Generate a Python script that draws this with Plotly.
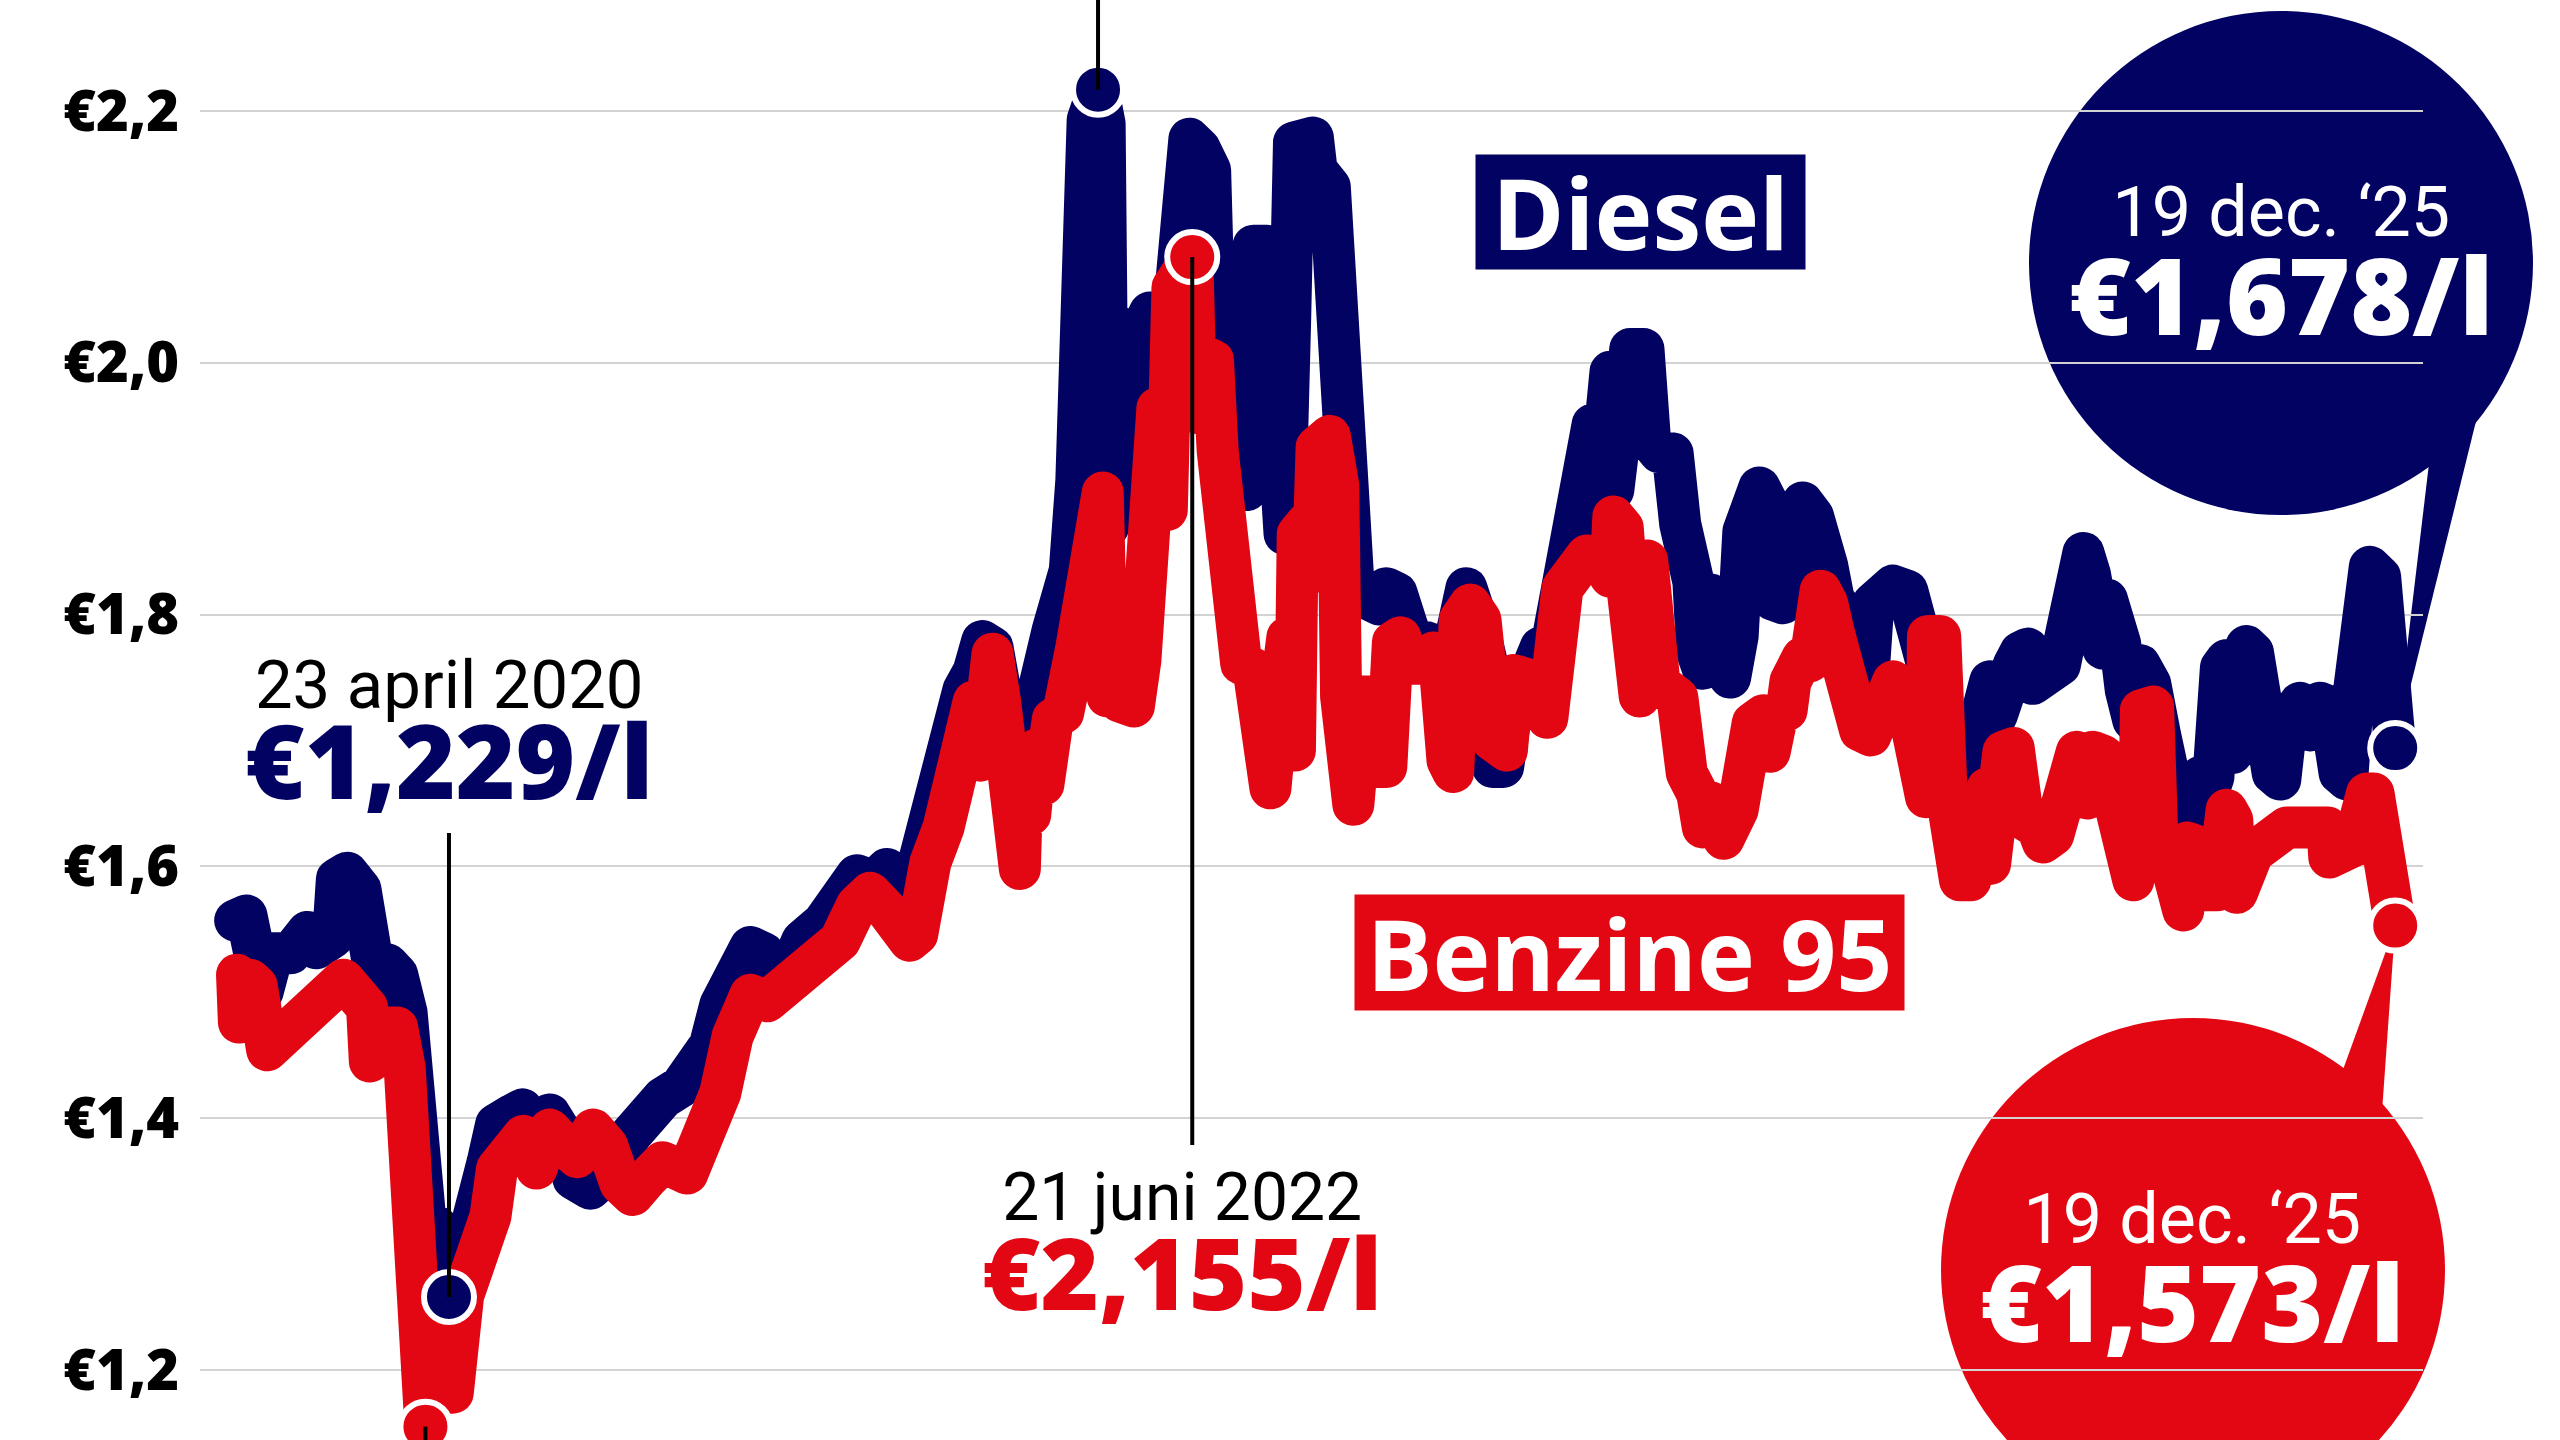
import pandas as pd
import plotly.graph_objects as go

# ---------------- data ----------------
BASE = pd.Timestamp("2020-01-01")  # day 0 of the day counters below

diesel_day = [
    -114, -102, -85, -74, -55, -37, -28, -10, -6, 5, 19, 29, 37, 48, 58, 68, 74, 82, 89, 100,
    113, 123, 132, 154, 163, 181, 191, 206, 220, 234, 245, 263, 280, 294, 305, 319, 340, 359, 372, 390,
    401, 411, 433, 447, 457, 471, 488, 510, 528, 546, 564, 578, 591, 599, 613, 627, 638, 648, 659, 670,
    679, 690, 698, 708, 719, 733, 754, 765, 772, 779, 786, 791, 802, 809, 813, 818, 821, 826, 831, 835,
    838, 847, 857, 861, 865, 869, 874, 881, 891, 899, 910, 921, 924, 935, 939, 945, 950, 960, 964, 967,
    981, 986, 991, 995, 1000, 1006, 1010, 1030, 1034, 1048, 1052, 1059, 1067, 1073, 1090, 1101, 1108, 1119, 1130, 1141,
    1151, 1165, 1173, 1183, 1193, 1204, 1215, 1221, 1232, 1239, 1261, 1272, 1282, 1295, 1310, 1321, 1327, 1335, 1338, 1346,
    1349, 1356, 1367, 1381, 1385, 1388, 1398, 1412, 1420, 1427, 1434, 1438, 1444, 1452, 1459, 1466, 1473, 1481, 1487, 1504,
    1515, 1518, 1529, 1537, 1544, 1550, 1561, 1569, 1576, 1583, 1592, 1603, 1618, 1625, 1632, 1640, 1646, 1661, 1664, 1672,
    1690, 1703, 1711, 1719, 1728, 1733, 1738, 1749, 1756, 1763, 1774, 1781, 1789, 1794, 1805, 1823, 1830, 1837, 1848, 1855,
    1858, 1869, 1873, 1882, 1887, 1893, 1901, 1908, 1919, 1929, 1940, 1951, 1958, 1961, 1972, 1980, 1986, 1994, 2000, 2006,
    2014, 2021, 2028, 2035, 2049, 2057, 2064, 2078, 2089, 2099, 2109, 2120, 2128, 2134, 2145, 2152, 2163, 2168, 2179,
]
diesel_price = [
    1.557, 1.561, 1.500, 1.531, 1.531, 1.548, 1.535, 1.544, 1.590, 1.595, 1.582, 1.548, 1.501, 1.522, 1.514, 1.484, 1.445, 1.386, 1.310, 1.314,
    1.258, 1.300, 1.301, 1.365, 1.395, 1.403, 1.407, 1.391, 1.403, 1.386, 1.352, 1.344, 1.356, 1.365, 1.386, 1.403, 1.416, 1.425, 1.437, 1.458,
    1.490, 1.512, 1.536, 1.531, 1.507, 1.512, 1.541, 1.555, 1.574, 1.593, 1.588, 1.598, 1.584, 1.579, 1.607, 1.646, 1.703, 1.727, 1.740, 1.755,
    1.779, 1.774, 1.740, 1.698, 1.703, 1.722, 1.788, 1.821, 1.835, 1.907, 2.098, 2.193, 2.217, 2.190, 1.870, 1.880, 2.030, 2.020, 1.900, 1.890,
    2.010, 2.040, 2.040, 1.940, 1.930, 2.000, 1.960, 2.030, 2.150, 2.178, 2.170, 2.153, 2.071, 2.071, 2.050, 1.967, 1.908, 1.899, 1.967, 2.093,
    2.093, 2.030, 2.000, 1.864, 1.864, 2.036, 2.175, 2.179, 2.153, 2.140, 2.079, 1.929, 1.843, 1.826, 1.812, 1.808, 1.821, 1.817, 1.791, 1.770,
    1.778, 1.774, 1.752, 1.821, 1.821, 1.796, 1.761, 1.679, 1.679, 1.714, 1.744, 1.774, 1.770, 1.830, 1.916, 1.929, 1.951, 1.908, 1.985, 1.993,
    1.899, 1.993, 2.011, 2.011, 1.951, 1.938, 1.929, 1.928, 1.872, 1.859, 1.826, 1.770, 1.757, 1.816, 1.812, 1.757, 1.750, 1.783, 1.866, 1.901,
    1.885, 1.812, 1.809, 1.862, 1.872, 1.889, 1.878, 1.866, 1.839, 1.812, 1.803, 1.763, 1.731, 1.809, 1.812, 1.819, 1.823, 1.819, 1.812, 1.777,
    1.740, 1.720, 1.680, 1.651, 1.655, 1.700, 1.743, 1.747, 1.720, 1.754, 1.760, 1.770, 1.773, 1.745, 1.754, 1.760, 1.786, 1.846, 1.849, 1.832,
    1.773, 1.773, 1.812, 1.800, 1.777, 1.740, 1.716, 1.760, 1.745, 1.706, 1.653, 1.629, 1.637, 1.671, 1.671, 1.658, 1.671, 1.758, 1.764, 1.690,
    1.770, 1.775, 1.770, 1.727, 1.674, 1.669, 1.716, 1.730, 1.708, 1.730, 1.727, 1.674, 1.669, 1.732, 1.806, 1.838, 1.830, 1.730, 1.694,
]

benzine_day = [
    -112, -110, -98, -91, -80, 1, 26, 29, 43, 58, 66, 74, 79, 83, 88, 96, 117, 128, 143, 157,
    164, 178, 192, 206, 220, 231, 249, 266, 281, 295, 308, 323, 340, 366, 380, 401, 414, 425, 433, 451,
    468, 486, 499, 514, 528, 546, 560, 578, 592, 602, 610, 613, 624, 638, 648, 659, 670, 677, 684, 690,
    698, 705, 708, 719, 722, 730, 737, 744, 754, 765, 779, 790, 797, 807, 812, 818, 825, 840, 847, 854,
    865, 871, 875, 881, 902, 906, 909, 913, 924, 929, 936, 944, 950, 954, 967, 974, 985, 992, 995, 1003,
    1006, 1011, 1014, 1024, 1030, 1034, 1048, 1057, 1060, 1064, 1073, 1083, 1094, 1101, 1108, 1115, 1123, 1130, 1144, 1158,
    1165, 1173, 1179, 1186, 1197, 1208, 1215, 1221, 1236, 1243, 1261, 1279, 1295, 1306, 1321, 1335, 1346, 1349, 1359, 1364,
    1367, 1377, 1385, 1388, 1398, 1417, 1420, 1427, 1438, 1444, 1452, 1459, 1466, 1481, 1487, 1494, 1497, 1508, 1515, 1523,
    1533, 1537, 1544, 1550, 1558, 1569, 1576, 1583, 1590, 1600, 1611, 1622, 1632, 1646, 1653, 1664, 1675, 1681, 1683, 1696,
    1703, 1710, 1717, 1728, 1735, 1746, 1749, 1752, 1763, 1774, 1784, 1799, 1805, 1816, 1830, 1841, 1852, 1858, 1869, 1880,
    1890, 1901, 1907, 1909, 1922, 1927, 1940, 1954, 1958, 1969, 1980, 1990, 2000, 2006, 2011, 2018, 2028, 2064, 2096, 2107,
    2109, 2124, 2134, 2149, 2156, 2163, 2170, 2175, 2179,
]
benzine_price = [
    1.514, 1.476, 1.510, 1.505, 1.454, 1.510, 1.488, 1.445, 1.472, 1.472, 1.440, 1.344, 1.259, 1.186, 1.155, 1.207, 1.182, 1.259, 1.288, 1.322,
    1.360, 1.369, 1.386, 1.360, 1.391, 1.382, 1.369, 1.391, 1.378, 1.348, 1.339, 1.352, 1.365, 1.356, 1.378, 1.420, 1.465, 1.493, 1.498, 1.493,
    1.503, 1.522, 1.522, 1.531, 1.541, 1.569, 1.579, 1.565, 1.550, 1.541, 1.546, 1.584, 1.603, 1.631, 1.674, 1.708, 1.731, 1.684, 1.764, 1.769,
    1.731, 1.684, 1.603, 1.598, 1.674, 1.641, 1.693, 1.665, 1.717, 1.722, 1.774, 1.831, 1.897, 1.897, 1.735, 1.805, 1.731, 1.727, 1.764, 1.955,
    1.964, 1.959, 1.883, 2.060, 2.084, 1.970, 1.960, 2.006, 2.002, 1.930, 1.880, 1.862, 1.851, 1.761, 1.757, 1.671, 1.662, 1.718, 1.782, 1.782,
    1.692, 1.692, 1.864, 1.873, 1.834, 1.933, 1.942, 1.903, 1.735, 1.657, 1.649, 1.735, 1.735, 1.679, 1.679, 1.778, 1.782, 1.761, 1.761, 1.770,
    1.757, 1.684, 1.675, 1.796, 1.808, 1.796, 1.757, 1.700, 1.692, 1.752, 1.748, 1.718, 1.821, 1.834, 1.847, 1.843, 1.830, 1.878, 1.869, 1.821,
    1.735, 1.735, 1.843, 1.757, 1.745, 1.734, 1.704, 1.674, 1.658, 1.631, 1.651, 1.628, 1.622, 1.645, 1.688, 1.704, 1.714, 1.720, 1.691, 1.720,
    1.724, 1.747, 1.760, 1.766, 1.763, 1.819, 1.809, 1.786, 1.754, 1.727, 1.708, 1.704, 1.720, 1.747, 1.740, 1.717, 1.671, 1.655, 1.783, 1.783,
    1.655, 1.605, 1.589, 1.589, 1.662, 1.662, 1.602, 1.635, 1.691, 1.694, 1.638, 1.631, 1.619, 1.625, 1.658, 1.691, 1.654, 1.691, 1.688, 1.654,
    1.595, 1.589, 1.616, 1.724, 1.727, 1.610, 1.605, 1.565, 1.619, 1.616, 1.581, 1.581, 1.645, 1.637, 1.579, 1.611, 1.611, 1.631, 1.637, 1.631,
    1.607, 1.613, 1.616, 1.658, 1.658, 1.626, 1.600, 1.584, 1.553,
]

# highlighted points: low, peak, last
diesel_mark_date = ["2020-04-23", "2022-03-13", "2025-12-19"]
diesel_mark_price = [1.258, 2.217, 1.694]
benzine_mark_date = ["2020-03-29", "2022-06-21", "2025-12-19"]
benzine_mark_price = [1.155, 2.084, 1.553]

y_ticks = [1.2, 1.4, 1.6, 1.8, 2.0, 2.2]
y_tick_labels = ["€1,2", "€1,4", "€1,6", "€1,8", "€2,0", "€2,2"]

series_names = ["Diesel", "Benzine 95"]
callout_date_text = ["23 april 2020", "21 juni 2022", "19 dec. \u201825"]
callout_price_text = ["€1,229/l", "€2,155/l", "€1,678/l", "€1,573/l"]

# ---------------- style / layout ----------------
NAVY = "#020262"
RED = "#e30613"
W, H = 2560, 1440
L, R = 200, 137
X0 = BASE + pd.Timedelta(days=-151.3)
X1 = BASE + pd.Timedelta(days=2208.5)
Y0, Y1 = 1.1444, 2.2882
LINE_W = 42

BOLD = "Open Sans"
REG = "Roboto"


def xp(px):
    return (px - L) / (W - L - R)


def yp(py):
    return 1 - py / H


def date_paper(d):
    return (pd.Timestamp(d) - X0) / (X1 - X0)


def price_paper(v):
    return (v - Y0) / (Y1 - Y0)


def callout(date_txt, price_txt, date_size, price_size, date_color, price_color):
    """Two-line callout: regular date line above a heavy price line."""
    return (f"<span style='font-family:{REG};font-size:{date_size}px;color:{date_color}'>{date_txt}</span><br>"
            f"<span style='font-family:{BOLD};font-size:{price_size}px;font-weight:800;color:{price_color}'>"
            f"{price_txt}</span>")


diesel_x = BASE + pd.to_timedelta(diesel_day, unit="D")
benzine_x = BASE + pd.to_timedelta(benzine_day, unit="D")

fig = go.Figure()
fig.add_trace(go.Scatter(x=diesel_x, y=diesel_price, mode="lines", name=series_names[0],
                         line=dict(color=NAVY, width=LINE_W), hoverinfo="skip"))
fig.add_trace(go.Scatter(x=benzine_x, y=benzine_price, mode="lines", name=series_names[1],
                         line=dict(color=RED, width=LINE_W), hoverinfo="skip"))
fig.add_trace(go.Scatter(x=diesel_mark_date, y=diesel_mark_price, mode="markers", cliponaxis=False,
                         marker=dict(color=NAVY, size=50, line=dict(color="white", width=6)),
                         hoverinfo="skip"))
fig.add_trace(go.Scatter(x=benzine_mark_date, y=benzine_mark_price, mode="markers", cliponaxis=False,
                         marker=dict(color=RED, size=50, line=dict(color="white", width=6)),
                         hoverinfo="skip"))

shapes = []
# speech bubbles
dx, dy = date_paper(diesel_mark_date[2]), price_paper(diesel_mark_price[2])
bx, by = date_paper(benzine_mark_date[2]), price_paper(benzine_mark_price[2])
shapes.append(dict(type="circle", xref="paper", yref="paper", x0=xp(2029), x1=xp(2533),
                   y0=yp(515), y1=yp(11), fillcolor=NAVY, line=dict(width=0), layer="between"))
shapes.append(dict(type="path", xref="paper", yref="paper",
                   path=f"M {xp(2430)} {yp(455)} L {xp(2480)} {yp(405)} L {dx} {dy} Z",
                   fillcolor=NAVY, line=dict(width=0), layer="between"))
shapes.append(dict(type="circle", xref="paper", yref="paper", x0=xp(1941), x1=xp(2445),
                   y0=yp(1522), y1=yp(1018), fillcolor=RED, line=dict(width=0), layer="between"))
shapes.append(dict(type="path", xref="paper", yref="paper",
                   path=f"M {xp(2340)} {yp(1078)} L {xp(2382)} {yp(1112)} L {bx} {by} Z",
                   fillcolor=RED, line=dict(width=0), layer="between"))
# leader lines
lead = dict(type="line", xref="x", yref="y", line=dict(color="black", width=4), layer="above")
shapes.append({**lead, "x0": diesel_mark_date[0], "x1": diesel_mark_date[0],
               "y0": diesel_mark_price[0], "y1": 1.6265})
shapes.append({**lead, "x0": diesel_mark_date[1], "x1": diesel_mark_date[1],
               "y0": diesel_mark_price[1], "y1": Y1 + 0.05})
shapes.append({**lead, "x0": benzine_mark_date[1], "x1": benzine_mark_date[1],
               "y0": benzine_mark_price[1], "y1": 1.3787})
shapes.append({**lead, "x0": benzine_mark_date[0], "x1": benzine_mark_date[0],
               "y0": benzine_mark_price[0], "y1": Y0 - 0.05})

ann = []
common = dict(showarrow=False, xanchor="center", yanchor="middle")
# series labels
ann.append(dict(text=series_names[0], xref="paper", yref="paper", x=xp(1640.5), y=yp(212),
                width=329, height=114, bgcolor=NAVY, borderpad=0, valign="middle",
                font=dict(family=BOLD, size=98, color="white", weight=700), **common))
ann.append(dict(text=series_names[1], xref="paper", yref="paper", x=xp(1629.5), y=yp(952.5),
                width=549, height=115, bgcolor=RED, borderpad=0, valign="middle",
                font=dict(family=BOLD, size=98, color="white", weight=700), **common))
# callouts (date line + price line in one text block)
ann.append(dict(text=callout(callout_date_text[0], callout_price_text[0], 67, 102, "black", NAVY),
                xref="x", yref="paper", x=diesel_mark_date[0], y=yp(738),
                font=dict(family=REG, size=70, color="black"), **common))
ann.append(dict(text=callout(callout_date_text[1], callout_price_text[1], 66, 100, "black", RED),
                xref="paper", yref="paper", x=xp(1182), y=yp(1249),
                font=dict(family=REG, size=69, color="black"), **common))
ann.append(dict(text=callout(callout_date_text[2], callout_price_text[2], 70, 106, "white", "white"),
                xref="paper", yref="paper", x=xp(2281), y=yp(268),
                font=dict(family=REG, size=76, color="white"), **common))
ann.append(dict(text=callout(callout_date_text[2], callout_price_text[3], 70, 106, "white", "white"),
                xref="paper", yref="paper", x=xp(2192), y=yp(1275),
                font=dict(family=REG, size=76, color="white"), **common))

fig.update_layout(
    width=W, height=H,
    margin=dict(l=L, r=R, t=0, b=0, pad=0),
    paper_bgcolor="white", plot_bgcolor="white",
    showlegend=False,
    shapes=shapes, annotations=ann,
    xaxis=dict(type="date", range=[X0, X1], showgrid=False, showticklabels=False,
               zeroline=False, showline=False, ticks=""),
    yaxis=dict(range=[Y0, Y1], tickvals=y_ticks, ticktext=y_tick_labels, ticks="",
               showgrid=True, gridcolor="#d3d3d3", gridwidth=2, zeroline=False, showline=False,
               ticklabelstandoff=20,
               tickfont=dict(family=BOLD, size=56, color="black", weight=800)),
)

post = """
document.body.style.margin='0';
var s=document.createElement('style');
s.textContent='.scatterlayer .js-line{stroke-linejoin:round;stroke-linecap:round;}';
document.head.appendChild(s);
"""
fig.write_html("out.html", post_script=post, config={"displayModeBar": False})
